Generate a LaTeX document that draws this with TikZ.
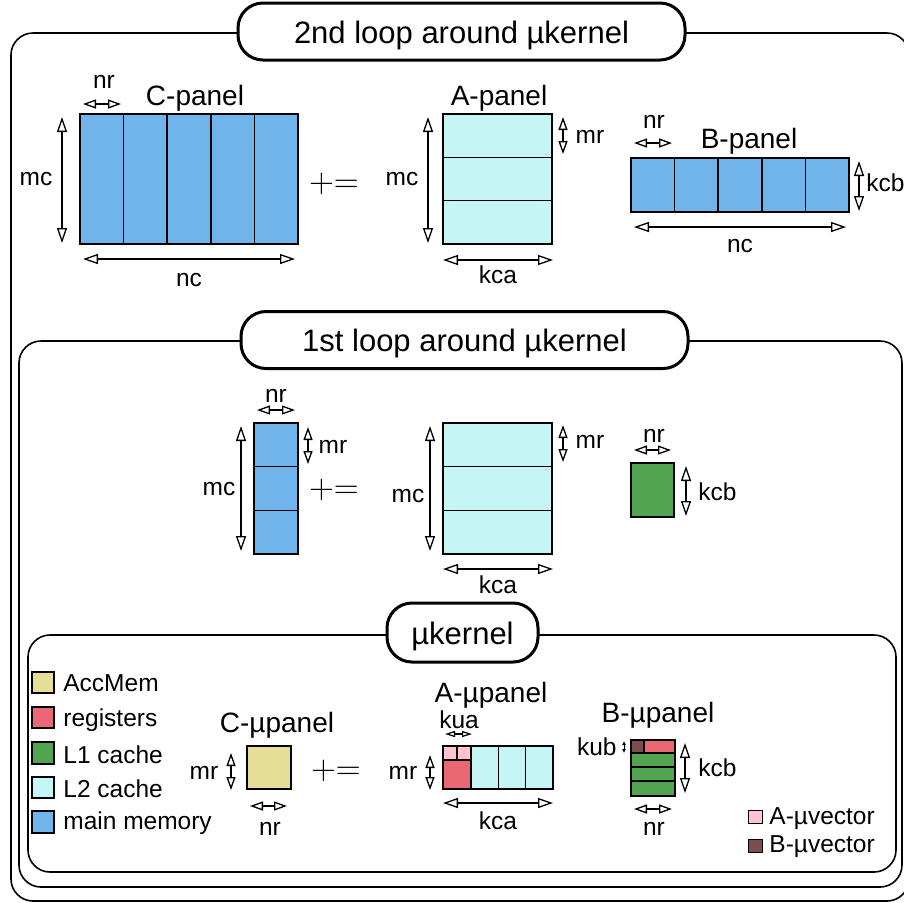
\documentclass[tikz,border=0pt]{standalone}
\usepackage{fontspec}
\setmainfont{Liberation Sans}
\usepackage{xcolor}
\usepackage{tikz}
\usetikzlibrary{arrows.meta}

\definecolor{mainmem}{RGB}{112,180,236}
\definecolor{ltwo}{RGB}{198,245,246}
\definecolor{lone}{RGB}{82,164,80}
\definecolor{regs}{RGB}{233,104,115}
\definecolor{accmem}{RGB}{229,222,150}
\definecolor{avec}{RGB}{255,196,208}
\definecolor{bvec}{RGB}{125,76,76}

\begin{document}
\begin{tikzpicture}[x=0.5pt,y=-0.5pt,
  dimarr/.style={line width=0.65pt,{Triangle[open,length=7.5pt,width=5pt]}-{Triangle[open,length=7.5pt,width=5pt]}},
  sdimarr/.style={line width=0.65pt,{Triangle[open,length=6.5pt,width=4.5pt]}-{Triangle[open,length=6.5pt,width=4.5pt]}},
  xsdimarr/.style={line width=0.6pt,{Triangle[open,length=5pt,width=3pt]}-{Triangle[open,length=5pt,width=3pt]}},
  tinyarr/.style={line width=0.5pt,{Latex[length=2pt,width=2pt]}-{Latex[length=2pt,width=2pt]}},
  blk/.style={line width=0.75pt},
  frame/.style={line width=0.8pt,rounded corners=11pt},
  loopbox/.style={draw,line width=1.5pt,fill=white,rounded corners=12.5pt,inner sep=0pt,
    minimum width=223.5pt,minimum height=28.5pt,text height=11.5pt,text depth=0pt,
    font=\fontsize{15.5}{18}\selectfont},
  lbl/.style={font=\fontsize{12.25}{14}\selectfont,inner sep=0pt},
  plbl/.style={font=\fontsize{14}{16}\selectfont,inner sep=0pt},
  pluseq/.style={font=\fontsize{18}{20}\selectfont,inner sep=0pt}]
\useasboundingbox (0,0) rectangle (904,902);
\draw[frame] (11,33) rectangle (909,901);
\draw[frame] (19,341) rectangle (902,887);
\draw[frame] (28,635) rectangle (896,872);
\node[loopbox] (loop2) at (461.5,31.5) {2nd loop around µkernel};
\node[loopbox] (loop1) at (464.5,340) {1st loop around µkernel};
\node[loopbox,minimum width=75.5pt,minimum height=29.5pt] (ukern) at (462.5,632.5) {µkernel};

\draw[blk,fill=mainmem] (80,114) rectangle (298,244);
\draw[blk] (123.6,114) -- (123.6,244) (167.2,114) -- (167.2,244) (210.8,114) -- (210.8,244) (254.4,114) -- (254.4,244);
\node[plbl,anchor=base] (cpan) at (195,105) {C-panel};
\draw[sdimarr] (83,104) -- (121,104);
\node[lbl,anchor=base] (nrC) at (104,88) {nr};
\draw[dimarr] (62,117) -- (62,243);
\node[lbl,anchor=base] (mcC) at (36,185) {mc};
\draw[dimarr] (83,259) -- (295,259);
\node[lbl,anchor=base] (ncC) at (189,286) {nc};
\node[pluseq,anchor=base] (upd2) at (334,192) {$+$$=$};

\draw[blk,fill=ltwo] (443,114) rectangle (552,244);
\draw[blk] (443,157.3) -- (552,157.3) (443,200.7) -- (552,200.7);
\node[plbl,anchor=base] (apan) at (499,105) {A-panel};
\draw[dimarr] (428,117) -- (428,243);
\node[lbl,anchor=base] (mcA) at (402,185) {mc};
\draw[sdimarr] (563,117) -- (563,154);
\node[lbl,anchor=base] (mrA) at (590,143) {mr};
\draw[dimarr] (443,260) -- (553,260);
\node[lbl,anchor=base] (kcaA) at (498,283) {kca};

\draw[blk,fill=mainmem] (631,158) rectangle (849,212);
\draw[blk] (674.6,158) -- (674.6,212) (718.2,158) -- (718.2,212) (761.8,158) -- (761.8,212) (805.4,158) -- (805.4,212);
\node[plbl,anchor=base] (bpan) at (749,148) {B-panel};
\draw[sdimarr] (634,143) -- (672,143);
\node[lbl,anchor=base] (nrB) at (654,128) {nr};
\draw[dimarr] (859,161) -- (859,211);
\node[lbl,anchor=base west] (kcbB) at (866,191) {kcb};
\draw[dimarr] (634,227) -- (846,227);
\node[lbl,anchor=base] (ncB) at (740,252) {nc};

\draw[blk,fill=mainmem] (254,423) rectangle (298,554);
\draw[blk] (254,466.7) -- (298,466.7) (254,510.3) -- (298,510.3);
\draw[sdimarr] (257,410) -- (295,410);
\node[lbl,anchor=base] (nr1) at (276,402) {nr};
\draw[dimarr] (241,426) -- (241,551);
\node[lbl,anchor=base] (mc1) at (219,495) {mc};
\draw[sdimarr] (308,427) -- (308,464);
\node[lbl,anchor=base] (mr1) at (333,453) {mr};
\node[pluseq,anchor=base] (upd1) at (334,498) {$+$$=$};

\draw[blk,fill=ltwo] (443,423) rectangle (552,554);
\draw[blk] (443,466.7) -- (552,466.7) (443,510.3) -- (552,510.3);
\draw[dimarr] (430,426) -- (430,551);
\node[lbl,anchor=base] (mc1A) at (408,502) {mc};
\draw[sdimarr] (563,425) -- (563,462);
\node[lbl,anchor=base] (mr1A) at (590,448) {mr};
\draw[dimarr] (443,569) -- (553,569);
\node[lbl,anchor=base] (kca1) at (498,593) {kca};

\draw[blk,fill=lone] (631,463) rectangle (674,517);
\draw[sdimarr] (634,450) -- (671,450);
\node[lbl,anchor=base] (nr1B) at (654,442) {nr};
\draw[dimarr] (686,466) -- (686,516);
\node[lbl,anchor=base west] (kcb1) at (698,500) {kcb};

\draw[blk,fill=accmem] (32,672) rectangle (54,693);
\node[lbl,anchor=base west] (lgacc) at (63,691) {AccMem};
\draw[blk,fill=regs] (32,707) rectangle (54,728);
\node[lbl,anchor=base west] (lgreg) at (63,726) {registers};
\draw[blk,fill=lone] (32,742) rectangle (54,764);
\node[lbl,anchor=base west] (lgl1) at (63,763) {L1 cache};
\draw[blk,fill=ltwo] (32,777) rectangle (54,798);
\node[lbl,anchor=base west] (lgl2) at (63,797) {L2 cache};
\draw[blk,fill=mainmem] (32,811) rectangle (54,833);
\node[lbl,anchor=base west] (lgmm) at (63,829) {main memory};

\draw[blk,fill=accmem] (247,746) rectangle (291,789);
\node[plbl,anchor=base] (cupan) at (277,732) {C-µpanel};
\draw[sdimarr] (231,753) -- (231,790);
\node[lbl,anchor=base] (mrCu) at (204,779) {mr};
\draw[sdimarr] (250,806) -- (287,806);
\node[lbl,anchor=base] (nrCu) at (270,835) {nr};
\node[pluseq,anchor=base] (updk) at (336,779) {$+$$=$};

\draw[blk,fill=ltwo] (443,746) rectangle (553,789);
\draw[blk,fill=regs] (443,760) rectangle (471,789);
\draw[blk,fill=avec] (443,746) rectangle (457,760);
\draw[blk,fill=avec] (457,746) rectangle (471,760);
\draw[blk] (471,746) -- (471,789) (498.3,746) -- (498.3,789) (525.7,746) -- (525.7,789);
\node[plbl,anchor=base] (aupan) at (491,702) {A-µpanel};
\draw[xsdimarr] (445,734) -- (472,734);
\node[lbl,anchor=base] (kua) at (459,728) {kua};
\draw[sdimarr] (430,755) -- (430,790);
\node[lbl,anchor=base] (mrAu) at (403,779) {mr};
\draw[dimarr] (443,803) -- (553,803);
\node[lbl,anchor=base] (kcaK) at (498,829) {kca};

\draw[blk,fill=lone] (631,740) rectangle (675,796);
\draw[blk,fill=bvec] (631,740) rectangle (644,753);
\draw[blk,fill=regs] (644,740) rectangle (675,753);
\draw[blk] (631,767) -- (675,767) (631,781) -- (675,781);
\node[plbl,anchor=base] (bupan) at (658,722) {B-µpanel};
\draw[tinyarr] (624,741) -- (624,753);
\node[lbl,anchor=base east] (kub) at (617,755) {kub};
\draw[dimarr] (685,743) -- (685,793);
\node[lbl,anchor=base west] (kcbK) at (698,776) {kcb};
\draw[sdimarr] (634,809) -- (672,809);
\node[lbl,anchor=base] (nrBu) at (654,835) {nr};

\draw[line width=0.5pt,fill=avec] (748,810) rectangle (762,823);
\node[lbl,anchor=base west] (lgav) at (769,824) {A-µvector};
\draw[line width=0.5pt,fill=bvec] (748,839) rectangle (762,852);
\node[lbl,anchor=base west] (lgbv) at (769,852) {B-µvector};
\end{tikzpicture}
\end{document}
